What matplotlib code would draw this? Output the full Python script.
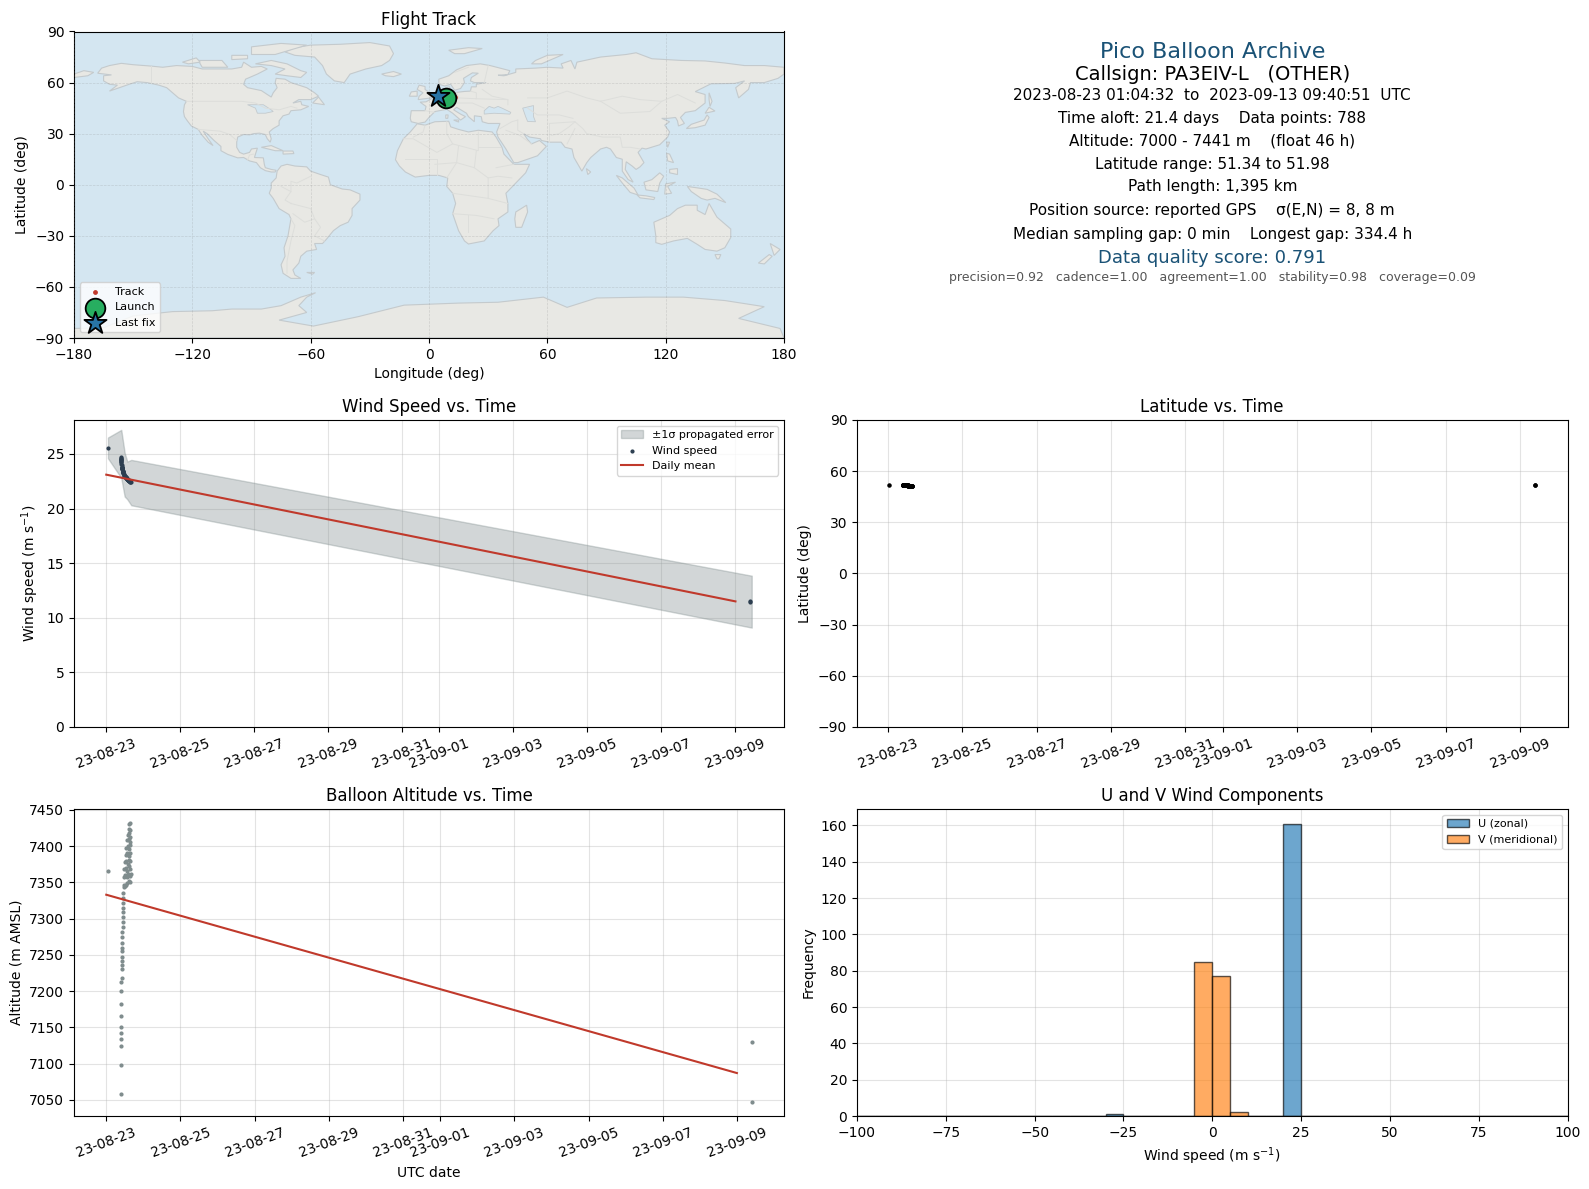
from datetime import datetime, timedelta

import matplotlib
matplotlib.use("Agg")
import matplotlib.dates as mdates
import matplotlib.pyplot as plt
from matplotlib.patches import Polygon

# Measurements, as days after 2023-08-23 00:00
track_days = [
    0.044, 0.400, 0.402, 0.404, 0.405, 0.403, 0.405, 0.406, 0.405, 0.404,
    0.410, 0.415, 0.432, 0.430, 0.432, 0.434, 0.425, 0.426, 0.430, 0.432,
    0.435, 0.445, 0.445, 0.450, 0.450, 0.452, 0.455, 0.455, 0.460, 0.470,
    0.480, 0.500, 0.530, 0.560, 0.600, 0.640, 0.480, 0.510, 0.550, 0.590,
    0.630, 0.655, 0.490, 0.520, 0.560, 0.600, 0.640, 0.500, 0.540, 0.580,
    0.620, 0.650, 0.520, 0.560, 0.600, 0.640, 0.545, 0.580, 0.620, 0.650,
    0.570, 0.600, 0.630, 0.590, 0.620, 0.645, 0.600, 0.630, 0.610, 0.640,
    17.40, 17.40]
altitude_m = [
    7366, 7058, 7098, 7124, 7134, 7142, 7151, 7166, 7182, 7200,
    7213, 7218, 7230, 7236, 7242, 7247, 7255, 7260, 7267, 7274,
    7281, 7288, 7295, 7302, 7309, 7315, 7322, 7329, 7336, 7343,
    7346, 7345, 7347, 7349, 7352, 7350, 7358, 7360, 7357, 7361,
    7359, 7362, 7368, 7370, 7366, 7372, 7369, 7378, 7380, 7376,
    7381, 7379, 7388, 7390, 7386, 7391, 7398, 7400, 7396, 7402,
    7408, 7410, 7406, 7415, 7418, 7413, 7424, 7422, 7430, 7432,
    7130, 7047]
wind_speed = [
    25.55, 24.70, 24.62, 24.55, 24.50, 24.45, 24.40, 24.36, 24.30, 24.26,
    24.10, 24.00, 23.70, 23.72, 23.68, 23.62, 23.82, 23.80, 23.72, 23.68,
    23.60, 23.45, 23.44, 23.38, 23.36, 23.34, 23.30, 23.28, 23.22, 23.14,
    23.05, 22.95, 22.82, 22.70, 22.60, 22.50, 23.05, 22.92, 22.75, 22.62,
    22.52, 22.46, 23.00, 22.88, 22.70, 22.60, 22.50, 22.95, 22.78, 22.64,
    22.55, 22.47, 22.88, 22.70, 22.60, 22.50, 22.76, 22.64, 22.55, 22.47,
    22.66, 22.60, 22.53, 22.62, 22.55, 22.49, 22.60, 22.53, 22.58, 22.50,
    11.50, 11.45]
latitude = [
    51.90, 51.93, 51.94, 51.92, 51.91, 51.90, 51.90, 51.89, 51.88, 51.88,
    51.87, 51.86, 51.84, 51.84, 51.83, 51.83, 51.85, 51.85, 51.84, 51.83,
    51.82, 51.80, 51.80, 51.79, 51.78, 51.78, 51.77, 51.77, 51.76, 51.74,
    51.72, 51.68, 51.63, 51.58, 51.50, 51.42, 51.72, 51.66, 51.60, 51.52,
    51.44, 51.38, 51.70, 51.64, 51.58, 51.50, 51.42, 51.68, 51.60, 51.54,
    51.46, 51.40, 51.64, 51.58, 51.50, 51.42, 51.60, 51.54, 51.46, 51.38,
    51.56, 51.50, 51.44, 51.52, 51.46, 51.40, 51.50, 51.44, 51.48, 51.34,
    51.98, 51.97]

band_days = [0.046, 0.405, 0.497, 0.568, 0.676, 17.44]
band_upper = [26.5, 27.2, 25.1, 24.3, 24.45, 13.85]
band_lower = [24.6, 22.8, 21.1, 20.85, 20.3, 9.1]

mean_days = [0, 17]
mean_wind = [23.1, 11.5]
mean_alt = [7333, 7087]

track_lon = [9.0, 10.3, 11.5, 12.5, 13.3, 5.0]
track_lat = [51.7, 51.6, 51.5, 51.4, 51.34, 51.98]
launch_lon, launch_lat = 8.5, 51.0
last_lon, last_lat = 4.5, 52.0

hist_edges = list(range(-100, 105, 5))
u_bins = [-27.5, 22.5]
u_counts = [1, 161]
v_bins = [-2.5, 2.5, 7.5]
v_counts = [85, 77, 2]

# Coastlines, lon/lat
north_america = [(-168,65.5),(-166,68.5),(-162,70),(-156,71.3),(-150,70.5),(-141,69.7),(-135,69),(-128,70),(-120,69.5),(-115,68),(-108,68),(-100,68),(-95,69),(-94,72),(-90,69),(-85,69.5),(-82,68),(-87,65),(-93,62),(-94,59),(-92,57),(-85,55.3),(-82,53),(-80,51.5),(-79,54),(-77,57),(-78,60),(-77.5,62.5),(-73,62),(-70,60),(-66,58.5),(-62,57),(-58,54),(-56,52),(-60,50),(-66,50),(-69,48),(-65,49),(-64.5,47),(-61,46),(-65,44),(-70,43.5),(-71,41.5),(-74,40.5),(-76,37.5),(-76,35),(-79,33),(-81,31),(-80,27),(-80.5,25),(-82,27),(-83,29.5),(-86,30.3),(-89,30),(-91,29.3),(-94,29.5),(-97,28),(-97.5,25),(-97.5,22),(-96,19),(-94,18),(-91,19),(-90,21),(-87,21.5),(-88,18),(-88.5,16),(-84,15.8),(-83.5,12),(-83,10),(-80,9),(-77.5,8.5),(-78,7.5),(-80,7.5),(-83,8.3),(-85.5,10),(-87.5,13),(-91,14),(-94,16),(-97,15.8),(-102,17.8),(-105.5,20),(-105.5,22.5),(-109,26),(-112.5,30),(-114.5,31.5),(-112,27),(-109.5,23),(-112,25),(-115,29),(-117,32.5),(-120.5,34.5),(-122.5,37.5),(-124,40),(-124.5,43),(-124,47),(-123,49),(-127,51),(-130,54),(-133,57),(-137,58.5),(-143,60),(-148,60.5),(-152,59),(-157,57),(-162,55),(-158,58.5),(-162,59),(-165,61),(-165,64),(-161,64.5)]
south_america = [(-77,8),(-75,11),(-72,12),(-68,11),(-62,10.5),(-60,8),(-55,6),(-51,4.5),(-50,0),(-44,-2.5),(-40,-3),(-35,-5.5),(-35,-9),(-39,-14),(-39,-18),(-41,-22),(-45,-24),(-48.5,-27),(-52,-32),(-54,-34.5),(-58,-34.5),(-57,-38),(-62,-39),(-65,-42),(-66,-46),(-69,-50),(-68,-53),(-65,-55),(-70,-55),(-74,-52),(-75,-47),(-73,-42),(-73.5,-37),(-71.5,-30),(-70,-20),(-71,-17.5),(-76,-14),(-79,-8),(-81,-5),(-80,-2),(-80,1),(-77.5,4)]
africa = [(-6,35.8),(-2,35),(3,37),(10,37.3),(11,34),(15,32.5),(20,31),(25,32),(32,31),(34,28),(37,22),(38,18),(43,12),(51,12),(49,7),(44,1),(39,-5),(40,-11),(40,-16),(35,-20),(35.5,-24),(32.5,-27),(28,-33),(20,-34.8),(18,-33),(15,-27),(12,-17),(13.5,-11),(12,-5),(9,-1),(9.5,4),(5,5.5),(0,5.5),(-7,4.5),(-12,7.5),(-15,11),(-17,14.7),(-16,20),(-13,27),(-9.5,31)]
eurasia = [(-9,37),(-9.5,39),(-9,43.5),(-2,43.5),(-1.5,46),(-4.5,48.5),(-1.5,48.7),(2,51),(4,52),(7,53.5),(8.5,55),(8.5,57),(10.5,57.5),(10.5,55),(12,54),(18,54.8),(21,55),(21.5,57.5),(24,57.5),(24,59),(29,60),(23,60),(21,61),(21.5,63),(25,65.5),(22,65.7),(17.5,62.5),(18,60),(16,56.5),(13,55.5),(11,59),(8,58),(5,59),(5,62),(10,64),(14,67.5),(19,70),(26,71),(31,70),(41,67),(40,64.7),(35,64.3),(38,64),(44,66),(44,68),(54,68.5),(60,69),(68,68.5),(67,71),(72,73),(74,68),(75,72),(81,73.5),(87,75),(100,76.5),(105,77.5),(113,74),(128,73),(140,72.7),(150,71.5),(160,70),(170,70),(180,69),(180,65),(177,62.5),(170,60),(163,60),(162,56),(157,51),(155.5,57),(160,61),(155,59.5),(143,59.3),(135,54.7),(140,53),(140,48),(135,43.5),(130,42.5),(127.5,39.5),(129.5,36),(126.5,34.5),(126,37.5),(125,39.5),(121,39),(118,39),(122,37),(119.5,35),(122,31),(121,28),(117,23.5),(110,21),(108,21.5),(106,19),(109,13),(107,10.5),(105,9),(103,11),(100,13.5),(99.5,9),(103.5,1.5),(101,3),(98,8),(98,15),(95,16),(92,21),(90,22),(87,21),(82,16),(80,13),(77.5,8),(73.5,16),(72.5,21),(69,22),(67,25),(61,25),(57,26),(56.5,27),(51,28),(48,30),(50,26.5),(52,24),(56,26),(59.5,22.5),(55,17),(45,13),(43,13),(39,21),(35,28),(34.3,31),(36,36),(30,36),(27,37),(26.5,40),(23,40.5),(23,37),(20,40),(19,42),(14,45.5),(12.5,44),(16,41.5),(18.5,40),(16,38),(12,42),(9,44.3),(3,43),(0,39.5),(-2,36.8),(-5.5,36)]
antarctica = [(-180,-90),(-180,-84.4),(-165,-84),(-150,-77),(-130,-74.5),(-110,-74),(-100,-73),(-85,-73),(-75,-71),(-65,-66),(-57.5,-63.4),(-62,-66),(-66,-71),(-62,-75),(-76,-79.5),(-58.6,-83),(-36,-77.5),(-12.6,-70.7),(15,-69.5),(35,-69),(58,-66),(70,-72),(85,-66.5),(110,-66),(129,-66),(150,-68),(170,-71.6),(157,-78.5),(178,-84.4),(180,-90)]
islands = [
    [(-73,78),(-68,80.5),(-60,82),(-45,82.5),(-30,83.5),(-20,81.5),(-18,77),(-20,73),(-24,70),(-32,68),(-40,65),(-43,60),(-48,61),(-52,65),(-54,70),(-58,75),(-68,76)],
    [(-80,73),(-72,71),(-65,67),(-62,66),(-65,63),(-72,64),(-78,65),(-73,68),(-80,70),(-88,71)],
    [(-117,73),(-105,73),(-102,69),(-115,69)],
    [(-90,76.5),(-78,76.5),(-62,82),(-75,83),(-90,81)],
    [(-125,72),(-118,74.5),(-116,72),(-122,71)],
    [(-100,76),(-92,76),(-92,74),(-100,73.5)],
    [(-59,48),(-56,51.5),(-53,47)],
    [(-85,22),(-80,23),(-74,20),(-78,20)],
    [(-74,19.8),(-69,19.8),(-68.5,18.3),(-74,18)],
    [(-24,65),(-18,66.5),(-14,65),(-18,63.5),(-22,64)],
    [(-5.5,50),(1,51),(1.5,53),(-2,56),(-2,57.7),(-5,58.5),(-6,56),(-3,54),(-5,52)],
    [(-10,52),(-6,52),(-6,55),(-9,54.5)],
    [(10,79),(20,80.5),(27,80),(18,77),(13,77)],
    [(52,71),(57,71),(68,76.5),(60,76),(54,73)],
    [(130.5,33),(135,33.5),(140,35),(142,39.5),(141,41),(139.5,38),(133,35.5)],
    [(140,42),(145,43.3),(142,45.5)],
    [(142,54),(143.5,49),(142.5,46),(142,50)],
    [(120.5,25),(122,25),(121,22)],
    [(120.5,18.5),(122,18),(124,13),(121,14)],
    [(122,9),(126,9.5),(126,6),(122,7)],
    [(79.8,9.5),(82,7.5),(80.5,6)],
    [(95,5.5),(98,4),(104,-2),(106,-6),(102,-4.5),(98,1)],
    [(109,1.5),(113,3),(117,7),(119,5),(117,1),(116,-4),(110,-3)],
    [(105.5,-6),(110,-6.5),(114.5,-7.5),(114,-8.7),(107,-7.7)],
    [(119.5,-5.5),(120,0.5),(125,1.5),(121,-1),(123,-5)],
    [(131,-1),(137,-2),(141,-2.7),(146,-5.5),(150.5,-10.5),(145,-8),(141,-9),(138,-8),(133,-4)],
    [(114,-22),(122,-18),(126,-14),(130,-12),(136,-12),(136,-15),(140,-17.5),(142,-11),(146,-19),(153,-26),(153,-31),(150,-37),(146,-39),(140,-38),(136,-35),(131,-31.5),(124,-33),(118,-35),(115,-34),(115,-30)],
    [(145,-41),(148,-41),(147,-43.5),(146,-43.5)],
    [(173,-34.5),(178,-38),(175,-41.5),(174,-38)],
    [(172.5,-41),(174,-42),(170,-46.5),(167,-46)],
    [(44,-16),(49.5,-12),(50,-16),(47,-25),(44,-25),(43.5,-20)],
    [(15,38),(12.5,38),(15,36.8)],
    [(8.5,41),(9.7,41),(9.5,39),(8.5,39)],
    [(-62,-51.5),(-58,-51.5),(-59,-52.5)],
    [(-180,65),(-175,67),(-170,66),(-173,64),(-180,63)],
]
inland_water = [
    [(28,41.5),(33,42),(41,41.5),(41.5,42.5),(37,45),(35,46),(33,45),(30.5,46),(28,43.5)],
    [(47.5,45),(53,46.5),(53,40),(54,37),(50,37.2),(49,40)],
    [(-92,47),(-84,47),(-80,44),(-79,43),(-83,42),(-87,42),(-88,45)],
]
borders = [
    [(-141,69.7),(-141,60)], [(-123,49),(-95,49),(-88,48),(-83,45),(-76,44),(-70,46),(-67,45)],
    [(-117,32.5),(-106,31.5),(-101,29.5),(-97.5,26)], [(-92,14.5),(-91,17.5),(-89,18)],
    [(-70,-20),(-68,-24),(-70,-33),(-72,-45),(-72,-52)], [(-70,-11),(-60,-14),(-58,-20),(-55,-25),(-58,-30),(-53,-33)],
    [(-70,-4),(-70,2),(-67,1),(-60,5)], [(-75,-1),(-70,-4),(-73,-9),(-70,-11)], [(-69,-17),(-63,-22),(-58,-20)],
    [(-8,28),(-3,31),(-2,35)], [(9,37),(9,30),(12,24),(25,20),(25,31)], [(-13,27),(-8,27),(4,19),(12,24)],
    [(25,22),(36,22)], [(15,23),(14,13),(9,4)], [(24,20),(23,10),(30,4),(35,5),(42,4)], [(3,12),(14,13),(23,10)],
    [(-12,15),(4,15),(4,6)], [(12,-5),(30,-8),(30,4)], [(12,-17),(24,-18),(33,-20)], [(20,-28),(20,-18)], [(30,-8),(40,-11)], [(34,10),(43,12)],
    [(2,51),(6,49),(8,47.5),(7,44)], [(-2,43.5),(3,42.5)], [(7,53.5),(6,50),(13,48),(15,51),(14,54)],
    [(15,51),(24,50.5),(24,54),(21,55)], [(13,48),(22,48),(28,45)], [(24,50.5),(40,50),(40,47)], [(28,60),(30,70)],
    [(13,66),(20,69)], [(27,56),(32,52),(40,50)], [(50,51),(60,51),(70,55),(80,51),(87,49)], [(50,45),(55,41),(66,41),(73,39)],
    [(87,49),(98,52),(107,50),(118,49),(126,53),(135,48)], [(87,49),(97,42),(112,43),(118,49)], [(61,36),(74,37),(78,33),(80,30),(88,28),(97,28),(98,22),(102,22),(107,21)],
    [(61,36),(61,25)], [(45,38),(45,32),(48,30)], [(36,33),(42,37),(45,38)], [(39,32),(46,29),(52,24)], [(62,29),(66,30),(71,34),(74,37)], [(70,24),(74,33)],
]

base_date = datetime(2023, 8, 23)
times = [base_date + timedelta(days=d) for d in track_days]
band_times = [base_date + timedelta(days=d) for d in band_days]
mean_times = [base_date + timedelta(days=d) for d in mean_days]

WIDTH, HEIGHT = 1589, 1189
fig = plt.figure(figsize=(WIDTH / 100, HEIGHT / 100), dpi=100)


def add_axes_px(left, top, right, bottom):
    return fig.add_axes([left / WIDTH, 1 - bottom / HEIGHT, (right - left) / WIDTH, (bottom - top) / HEIGHT])


COL1 = (74, 784)
COL2 = (857, 1567.5)
ROW1 = (31.5, 338)
ROW2 = (420, 727)
ROW3 = (809, 1116)

ax_map = add_axes_px(COL1[0], ROW1[0], COL1[1], ROW1[1])
ax_info = add_axes_px(COL2[0], ROW1[0], COL2[1], ROW1[1])
ax_wind = add_axes_px(COL1[0], ROW2[0], COL1[1], ROW2[1])
ax_lat = add_axes_px(COL2[0], ROW2[0], COL2[1], ROW2[1])
ax_alt = add_axes_px(COL1[0], ROW3[0], COL1[1], ROW3[1])
ax_hist = add_axes_px(COL2[0], ROW3[0], COL2[1], ROW3[1])

# Map
ax_map.set_facecolor("#d4e6f1")
for poly in [north_america, south_america, africa, eurasia, antarctica] + islands:
    ax_map.add_patch(Polygon(poly, closed=True, facecolor="#e8e8e4", edgecolor="#c4cacd", lw=0.8, zorder=1))
for poly in inland_water:
    ax_map.add_patch(Polygon(poly, closed=True, facecolor="#d4e6f1", edgecolor="#c4cacd", lw=0.6, zorder=1.1))
for line in borders:
    ax_map.plot([p[0] for p in line], [p[1] for p in line], color="#dddedb", lw=0.7, zorder=1.2)
ax_map.grid(True, ls="--", lw=0.5, color="gray", alpha=0.25, zorder=1.5)
ax_map.set_axisbelow(False)
ax_map.scatter(track_lon, track_lat, s=6, color="#c0392b", zorder=3, label="Track")
ax_map.scatter([launch_lon], [launch_lat], s=200, color="#27ae60", edgecolor="black", lw=1.3, zorder=4, label="Launch")
ax_map.scatter([last_lon], [last_lat], s=280, marker="*", color="#2874a6", edgecolor="black", lw=1.3, zorder=5, label="Last fix")
ax_map.set_xlim(-180, 180)
ax_map.set_ylim(-90, 90)
ax_map.set_xticks(range(-180, 181, 60))
ax_map.set_yticks(range(-90, 91, 30))
ax_map.set_xlabel("Longitude (deg)")
ax_map.set_ylabel("Latitude (deg)")
ax_map.set_title("Flight Track", fontsize=12, pad=5)
ax_map.legend(loc="lower left", fontsize=8)

# Summary text
ax_info.axis("off")
info_lines = [
    (52, "Pico Balloon Archive", 16, "#1a5276"),
    (74.5, "Callsign: PA3EIV-L   (OTHER)", 14, "black"),
    (96, "2023-08-23 01:04:32  to  2023-09-13 09:40:51  UTC", 11, "black"),
    (118, "Time aloft: 21.4 days    Data points: 788", 11, "black"),
    (141, "Altitude: 7000 - 7441 m    (float 46 h)", 11, "black"),
    (164, "Latitude range: 51.34 to 51.98", 11, "black"),
    (187, "Path length: 1,395 km", 11, "black"),
    (210, "Position source: reported GPS    σ(E,N) = 8, 8 m", 11, "black"),
    (234, "Median sampling gap: 0 min    Longest gap: 334.4 h", 11, "black"),
    (258, "Data quality score: 0.791", 13, "#1a5276"),
    (278, "precision=0.92   cadence=1.00   agreement=1.00   stability=0.98   coverage=0.09", 9, "#555555"),
]
for y_px, line, size, color in info_lines:
    ax_info.text(0.5, 1 - (y_px - ROW1[0]) / (ROW1[1] - ROW1[0]), line, transform=ax_info.transAxes,
                 ha="center", va="center", fontsize=size, color=color)

# Wind speed
ax_wind.fill_between(band_times, band_lower, band_upper, color="#7f8c8d", alpha=0.35, label="±1σ propagated error")
ax_wind.scatter(times, wind_speed, s=4, color="#2c3e50", label="Wind speed")
ax_wind.plot(mean_times, mean_wind, color="#c0392b", lw=1.5, label="Daily mean")
ax_wind.set_ylim(bottom=0)
ax_wind.set_ylabel("Wind speed (m s$^{-1}$)")
ax_wind.set_title("Wind Speed vs. Time", fontsize=12)
ax_wind.legend(loc="upper right", fontsize=8)

# Latitude
ax_lat.scatter(times, latitude, s=5, color="black")
ax_lat.set_ylim(-90, 90)
ax_lat.set_yticks(range(-90, 91, 30))
ax_lat.set_ylabel("Latitude (deg)")
ax_lat.set_title("Latitude vs. Time", fontsize=12)

# Altitude
ax_alt.scatter(times, altitude_m, s=4, color="#7f8c8d")
ax_alt.plot(mean_times, mean_alt, color="#c0392b", lw=1.5)
ax_alt.set_ylabel("Altitude (m AMSL)")
ax_alt.set_xlabel("UTC date")
ax_alt.set_title("Balloon Altitude vs. Time", fontsize=12)

for ax in (ax_wind, ax_lat, ax_alt):
    ax.xaxis.set_major_locator(mdates.DayLocator(bymonthday=range(1, 32, 2)))
    ax.xaxis.set_major_formatter(mdates.DateFormatter("%y-%m-%d"))
    ax.tick_params(axis="x", labelrotation=20)
    ax.grid(True, alpha=0.35)
    ax.set_axisbelow(True)

# Histogram
ax_hist.hist(u_bins, bins=hist_edges, weights=u_counts, color="C0", alpha=0.65, edgecolor="black", label="U (zonal)")
ax_hist.hist(v_bins, bins=hist_edges, weights=v_counts, color="C1", alpha=0.65, edgecolor="black", label="V (meridional)")
ax_hist.set_xlim(-100, 100)
ax_hist.set_xlabel("Wind speed (m s$^{-1}$)")
ax_hist.set_ylabel("Frequency")
ax_hist.set_title("U and V Wind Components", fontsize=12)
ax_hist.grid(True, alpha=0.35)
ax_hist.set_axisbelow(True)
ax_hist.legend(loc="upper right", fontsize=8)

fig.savefig("out.png", dpi=100)
